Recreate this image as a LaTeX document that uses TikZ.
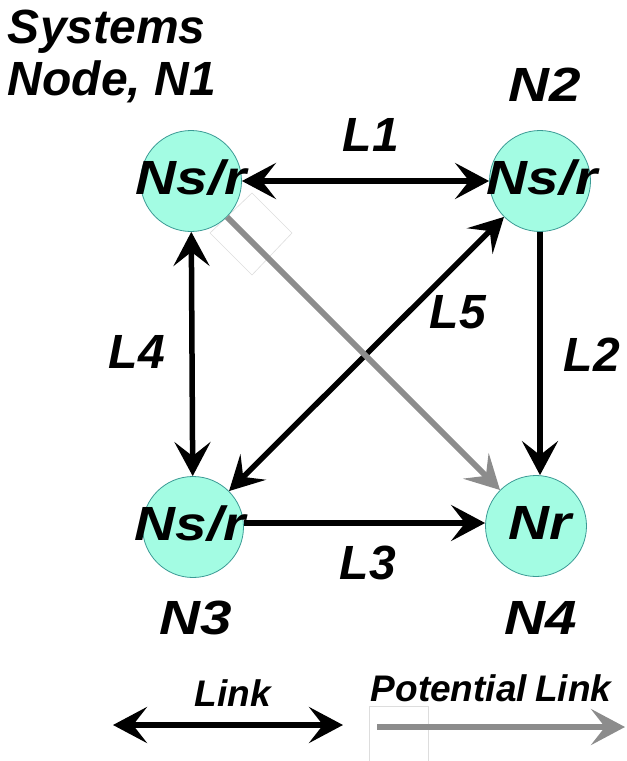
\documentclass[tikz,border=0pt]{standalone}
\usepackage{fontspec}
\setmainfont{Liberation Sans}
\usetikzlibrary{arrows.meta}
\definecolor{nodefill}{HTML}{A3FCE3}
\definecolor{nodeedge}{HTML}{3A9A94}
\definecolor{potgray}{HTML}{8C8C8C}
\definecolor{faint}{HTML}{DDDDDD}
\begin{document}
\begin{tikzpicture}[x=1pt,y=-1pt,
  >={Stealth[length=34pt,width=36pt,inset=14pt]},
  station/.style={circle,draw=nodeedge,line width=0.8pt,fill=nodefill,minimum size=101pt,inner sep=0pt},
  big/.style={font=\fontsize{48}{52}\selectfont\bfseries\itshape,inner sep=0pt},
  inlab/.style={big,xscale=1.18},
  small/.style={font=\fontsize{37}{40}\selectfont\bfseries\itshape,inner sep=0pt},
  link/.style={line width=5.5pt,->},
  dlink/.style={line width=5.5pt,<->},
  potential/.style={line width=6pt,draw=potgray,->},
  artifact/.style={draw=faint,line width=0.6pt}
]
\useasboundingbox (0,0) rectangle (627,761);
% faint artifacts
\draw[artifact] (252,193) -- (292,233) -- (252,275) -- (210,233) -- cycle;
\draw[artifact] (369,761) -- (369,706) -- (428,706) -- (428,761);
% stations
\node[station] (n1) at (191,181) {};
\node[station] (n2) at (540,181) {};
\node[station] (n3) at (193,527) {};
\node[station] (n4) at (536,526) {};
\node[inlab] (t1) at (191,178) {Ns/r};
\node[inlab] (t2) at (542,178) {Ns/r};
\node[inlab] (t3) at (190,524) {Ns/r};
\node[inlab] (t4) at (540,523) {Nr};
% labels
\node[big,align=left] (sys) at (112,56) {Systems\\Node, N1};
\node[inlab] (l2n) at (545,85) {N2};
\node[inlab] (l3n) at (196,618) {N3};
\node[inlab] (l4n) at (541,618) {N4};
\node[big] (lab1) at (371,135) {L1};
\node[big] (lab2) at (592,355) {L2};
\node[big] (lab3) at (368,563) {L3};
\node[big] (lab4) at (137,352) {L4};
\node[big] (lab5) at (458,312) {L5};
% links
\draw[dlink] (n1) -- (n2);
\draw[link] (n2.south) -- (n2.south |- n4.north);
\draw[link] (n3.east |- 0,523) -- (n4.west |- 0,523);
\draw[dlink] (n1) -- (n3);
\draw[dlink] (n2) -- (n3);
\draw[potential] (n1) -- (n4);
% legend
\node[small] (leglink) at (233,693) {Link};
\node[small] (legpot) at (491,688) {Potential\kern-2pt\ Link};
\coordinate (la) at (113,725);
\coordinate (lb) at (343,725);
\coordinate (pa) at (377,727);
\coordinate (pb) at (625,727);
\draw[dlink] (la) -- (lb);
\draw[potential] (pa) -- (pb);
\end{tikzpicture}
\end{document}
